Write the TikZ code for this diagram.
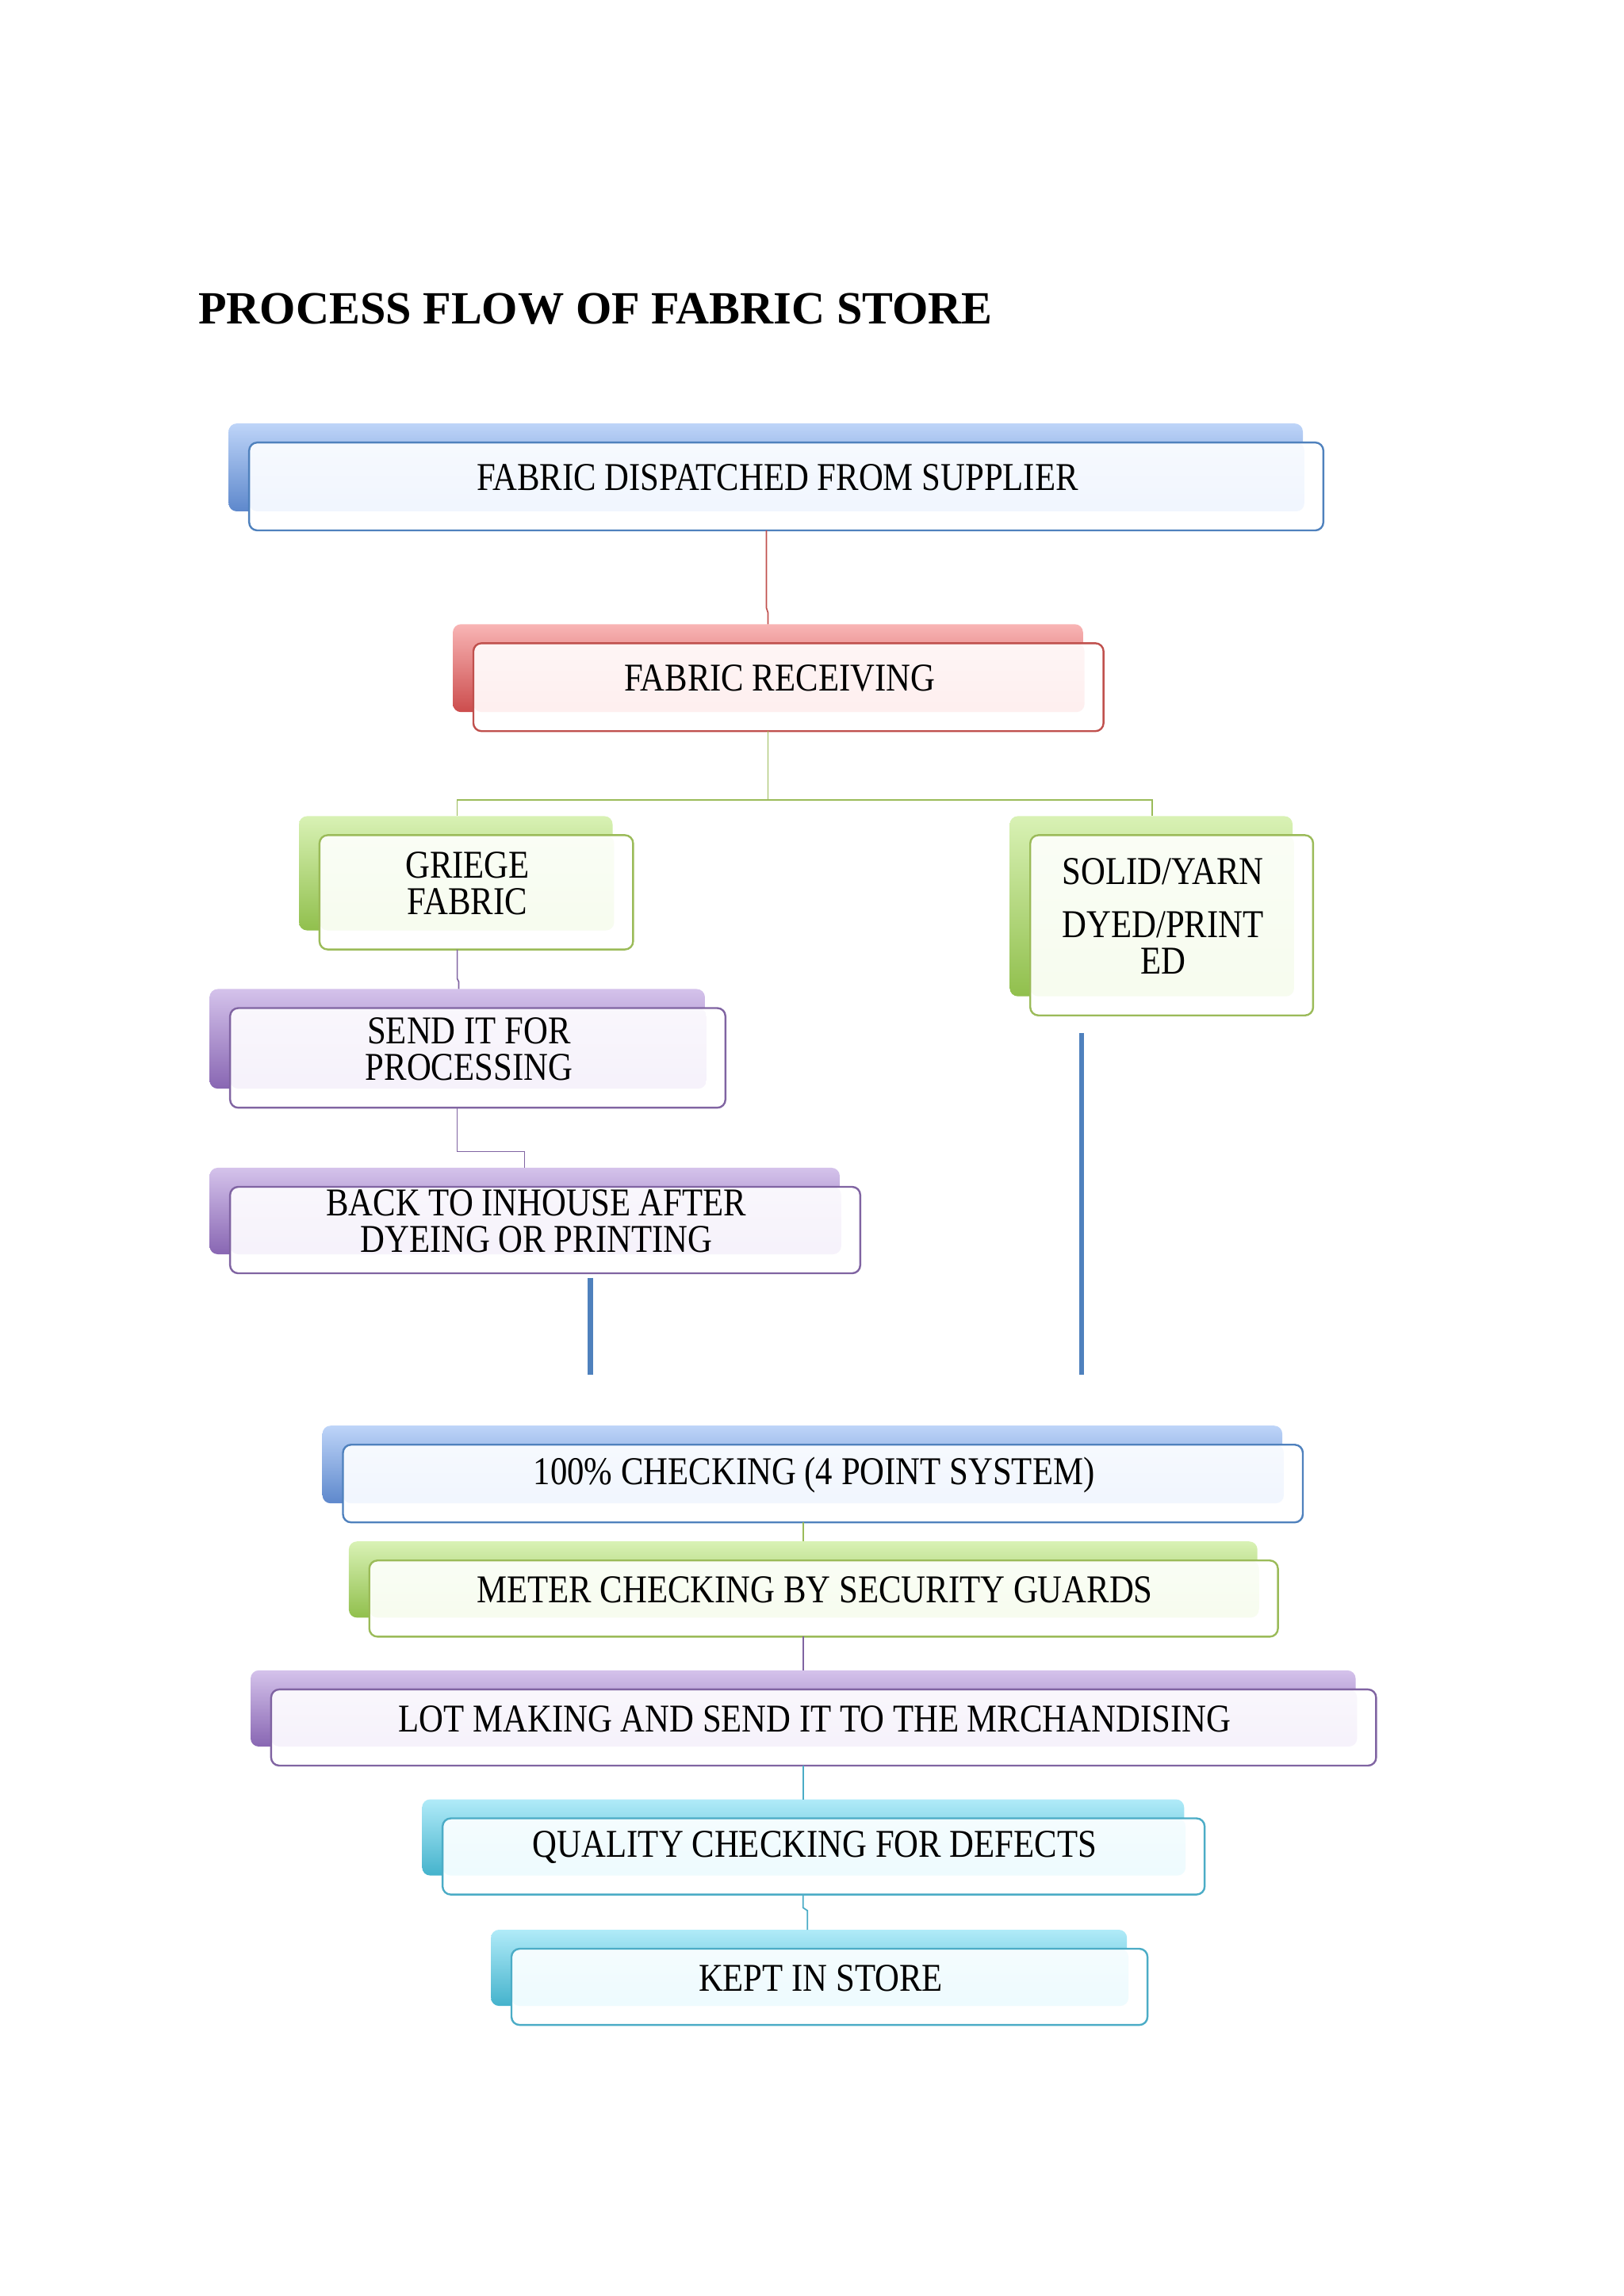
\documentclass[tikz,border=0pt]{standalone}
\usepackage{fontspec}
\setmainfont{Liberation Serif}[FakeStretch=0.86]
\newfontfamily\titlefont{Liberation Serif}
\begin{document}
\begin{tikzpicture}[x=0.018953cm,y=-0.018953cm,
 back/.style={rounded corners=3pt},
 front/.style={rounded corners=3pt,line width=0.7pt},
 lbl/.style={font=\fontsize{14.5}{13.5}\selectfont,align=center,inner sep=0},
 conn/.style={line width=0.5pt}]
\useasboundingbox (0,0) rectangle (1108,1567);
\node[anchor=base west,font=\titlefont\fontsize{17}{20}\selectfont\bfseries,inner sep=0] (title) at (135,221) {PROCESS FLOW OF FABRIC STORE};
\def\mybox#1#2#3#4#5#6#7#8{%
 \shade[back,top color=#5!45,bottom color=#5!85!black] (#1-14,#2-13) rectangle (#3-14,#4-13);
 \fill[rounded corners=3pt,white] (#1,#2) rectangle (#3,#4);
 \shade[rounded corners=3pt,top color=#5!6,bottom color=#5!10] (#1,#2) rectangle (#3-13,#4-13);
 \draw[front,draw=#6] (#1,#2) rectangle (#3,#4);
 \node[lbl] (#7) at ({(#1+#3)/2-6},{(#2+#4)/2-6}) {#8};}
\definecolor{cblue}{RGB}{79,129,189}
\definecolor{cred}{RGB}{192,80,77}
\definecolor{cgreen}{RGB}{155,187,89}
\definecolor{cpurple}{RGB}{128,100,162}
\definecolor{ccyan}{RGB}{75,172,198}
\definecolor{bblue}{RGB}{110,160,240}
\definecolor{bred}{RGB}{240,90,90}
\definecolor{bgreen}{RGB}{170,225,90}
\definecolor{bpurple}{RGB}{160,120,210}
\definecolor{bcyan}{RGB}{80,210,240}
\mybox{170}{302}{903}{362}{bblue}{cblue}{n1}{FABRIC DISPATCHED FROM SUPPLIER}
\mybox{323}{439}{753}{499}{bred}{cred}{n2}{FABRIC RECEIVING}
\mybox{218}{570}{432}{648}{bgreen}{cgreen}{n3}{GRIEGE\\FABRIC}
\mybox{703}{570}{896}{693}{bgreen}{cgreen}{n4}{SOLID/YARN\\[6pt]DYED/PRINT\\ED}
\mybox{157}{688}{495}{756}{bpurple}{cpurple}{n5}{SEND IT FOR\\PROCESSING}
\mybox{157}{810}{587}{869}{bpurple}{cpurple}{n6}{BACK TO INHOUSE AFTER\\DYEING OR PRINTING}
\mybox{234}{986}{889}{1039}{bblue}{cblue}{n7}{100\% CHECKING (4 POINT SYSTEM)}
\mybox{252}{1065}{872}{1117}{bgreen}{cgreen}{n8}{METER CHECKING BY SECURITY GUARDS}
\mybox{185}{1153}{939}{1205}{bpurple}{cpurple}{n9}{LOT MAKING AND SEND IT TO THE MRCHANDISING}
\mybox{302}{1241}{822}{1293}{bcyan}{ccyan}{n10}{QUALITY CHECKING FOR DEFECTS}
\mybox{349}{1330}{783}{1382}{bcyan}{ccyan}{n11}{KEPT IN STORE}
\coordinate (a1) at (523,362); \coordinate (a2) at (524,426);
\draw[conn,cred] (a1) -- (523,415) -- (524,418) -- (a2);
\coordinate (g0) at (524,499);
\draw[conn,cgreen] (g0) -- (524,546) -- (312,546) -- (312,557);
\draw[conn,cgreen] (524,546) -- (786,546) -- (786,557);
\draw[conn,cpurple] (312,648) -- (312,668) -- (313,670) -- (313,675);
\draw[conn,cpurple] (312,756) -- (312,786) -- (358,786) -- (358,797);
\coordinate (t1) at (403,872); \coordinate (t2) at (403,938);
\draw[line width=2pt,cblue] (t1) -- (t2);
\coordinate (t3) at (738,705); \coordinate (t4) at (738,938);
\draw[line width=2pt,cblue] (t3) -- (t4);
\draw[conn,cgreen] (548,1039) -- (548,1052);
\draw[conn,cpurple] (548,1117) -- (548,1140);
\draw[conn,ccyan] (548,1205) -- (548,1228);
\draw[conn,ccyan] (548,1293) -- (548,1302) -- (551,1304) -- (551,1317);
\end{tikzpicture}
\end{document}
